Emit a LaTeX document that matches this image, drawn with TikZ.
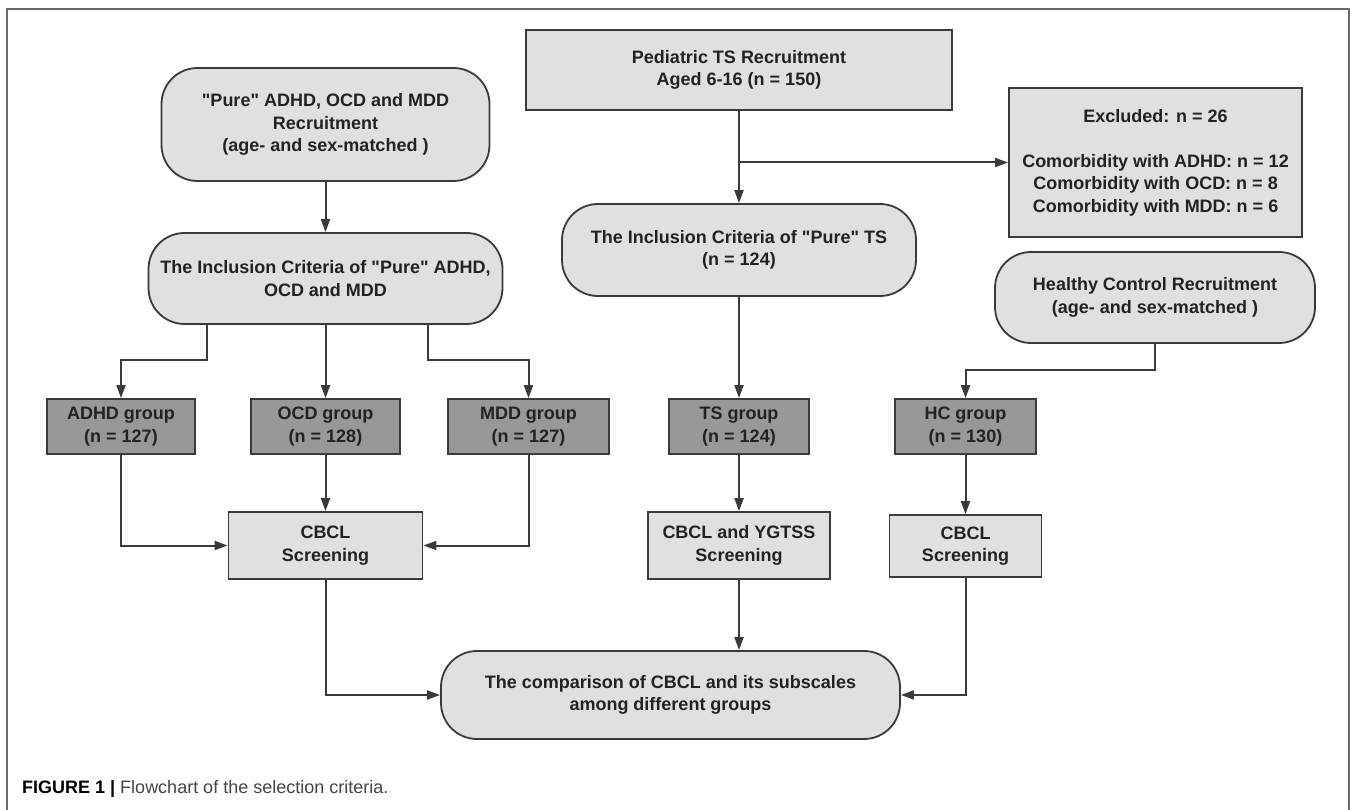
\documentclass[tikz,border=0pt]{standalone}
\usepackage{fontspec}
\setmainfont{Liberation Sans}
\usetikzlibrary{arrows.meta}
\definecolor{linegray}{HTML}{3A3A3A}
\definecolor{textgray}{HTML}{222222}
\definecolor{boxlight}{HTML}{E0E0E0}
\definecolor{boxdark}{HTML}{989898}
\definecolor{framegray}{HTML}{6A6A6A}
\definecolor{capgray}{HTML}{444444}

\begin{document}
\begin{tikzpicture}[x=1pt,y=-1pt,
    font=\fontsize{18}{22.5}\selectfont\bfseries,
    every node/.style={text=textgray, align=center, inner sep=2pt},
    light/.style={draw=linegray, line width=1.8pt, fill=boxlight},
    dark/.style={draw=linegray, line width=1.8pt, fill=boxdark},
    roundbox/.style={light, rounded corners=36pt},
    link/.style={draw=linegray, line width=2pt, -{Triangle[length=13pt,width=9pt]}}]
  \useasboundingbox (0,0) rectangle (1358,810);
  \draw[framegray, line width=1.2pt] (7,812) -- (7,9) -- (1349,9) -- (1349,812);

  % top row
  \draw
    (325.5,124.5) node[roundbox, minimum width=328, minimum height=113] (pure)
      {\textquotedbl Pure\textquotedbl{} ADHD, OCD and MDD\\Recruitment\\(age- and sex-matched )}
    (739,70) node[light, minimum width=426, minimum height=80] (ped)
      {Pediatric TS Recruitment\\Aged 6-16 (n = 150)}
    (1155.5,162.5) node[light, minimum width=293, minimum height=149] (excl)
      {Excluded: n = 26\\[22.5pt]Comorbidity with ADHD: n = 12\\Comorbidity with OCD: n = 8\\Comorbidity with MDD: n = 6}
    (325.5,278.5) node[roundbox, minimum width=354, minimum height=91] (incl)
      {The Inclusion Criteria of \textquotedbl Pure\textquotedbl{} ADHD,\\OCD and MDD}
    (739,250) node[roundbox, minimum width=354, minimum height=92] (tsincl)
      {The Inclusion Criteria of \textquotedbl Pure\textquotedbl{} TS\\(n = 124)}
    (1155,297.5) node[roundbox, minimum width=320, minimum height=91] (hcrec)
      {Healthy Control Recruitment\\(age- and sex-matched )};

  % groups
  \draw
    (121,426.5) node[dark, minimum width=148, minimum height=55] (adhd) {ADHD group\\(n = 127)}
    (325.5,426.5) node[dark, minimum width=149, minimum height=55] (ocd) {OCD group\\(n = 128)}
    (528.5,426.5) node[dark, minimum width=161, minimum height=55] (mdd) {MDD group\\(n = 127)}
    (739,426.5) node[dark, minimum width=140, minimum height=55] (ts) {TS group\\(n = 124)}
    (965.5,426.5) node[dark, minimum width=141, minimum height=55] (hc) {HC group\\(n = 130)};

  % screening
  \draw
    (325.5,545.5) node[light, minimum width=194, minimum height=67] (scr1) {CBCL\\Screening}
    (739,545.5) node[light, minimum width=182, minimum height=67] (scr2) {CBCL and YGTSS\\Screening}
    (965.5,546) node[light, minimum width=152, minimum height=62] (scr3) {CBCL\\Screening}
    (670.5,695) node[roundbox, minimum width=459, minimum height=88] (comp)
      {The comparison of CBCL and its subscales\\among different groups};

  \coordinate (split) at (739,162.5);

  \begin{scope}[link]
    \draw (pure) -- (incl);
    \draw (ped) -- (tsincl);
    \draw (split) -- (excl);
    \draw ([xshift=-118.5pt]incl.south) -- ++(0,35) -| (adhd);
    \draw (incl) -- (ocd);
    \draw ([xshift=102.5pt]incl.south) -- ++(0,35) -| (mdd);
    \draw (tsincl) -- (ts);
    \draw (hcrec.south) -- ++(0,26) -| (hc);
    \draw (adhd) |- (scr1);
    \draw (ocd) -- (scr1);
    \draw (mdd) |- (scr1);
    \draw (ts) -- (scr2);
    \draw (hc) -- (scr3);
    \draw (scr1) |- (comp);
    \draw (scr2) -- (scr2 |- comp.north);
    \draw (scr3) |- (comp);
  \end{scope}

  \node[anchor=base west, inner sep=0pt, font=\fontsize{18}{21}\selectfont] (cap) at (22,793)
    {\textbf{\color{black}FIGURE 1 |} \color{capgray}Flowchart of the selection criteria.};
\end{tikzpicture}
\end{document}
